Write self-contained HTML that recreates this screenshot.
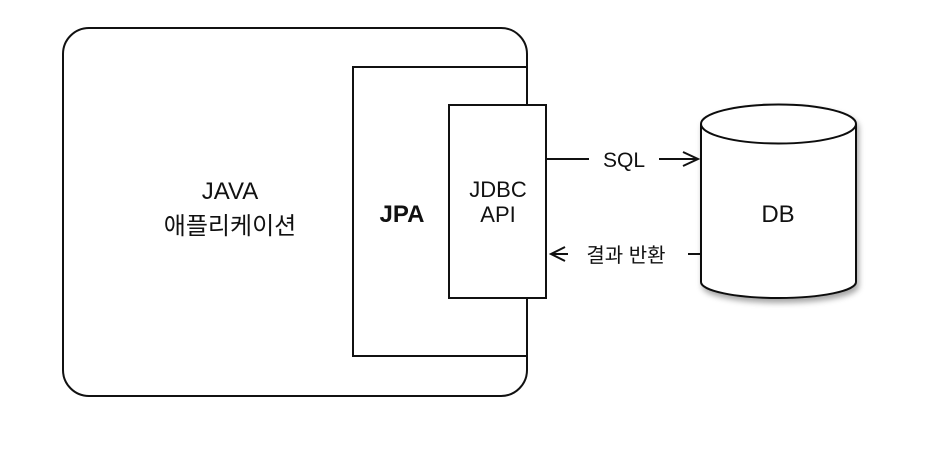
<!DOCTYPE html>
<html><head><meta charset="utf-8"><style>
html,body{margin:0;padding:0;background:#fff;}
text{font-family:"Liberation Sans","Noto Sans CJK KR",sans-serif;fill:#111;}
</style></head><body>
<svg width="926" height="462" viewBox="0 0 926 462" xmlns="http://www.w3.org/2000/svg">
<defs><filter id="sh" x="-10%" y="-10%" width="130%" height="130%"><feDropShadow dx="2" dy="4" stdDeviation="3" flood-opacity="0.35"/></filter></defs>
<rect x="63" y="28" width="464" height="368" rx="26" fill="#fff" stroke="#111" stroke-width="2"/>
<rect x="353" y="67" width="174" height="289" fill="#fff" stroke="#111" stroke-width="2"/>
<rect x="449" y="105" width="97" height="193" fill="#fff" stroke="#111" stroke-width="2"/>
<text x="230" y="199" font-size="24" text-anchor="middle">JAVA</text>
<text x="230" y="234" font-size="24" text-anchor="middle">애플리케이션</text>
<text x="402" y="222" font-size="24" font-weight="bold" text-anchor="middle">JPA</text>
<text x="498" y="197" font-size="22" text-anchor="middle">JDBC</text>
<text x="498" y="222" font-size="22" text-anchor="middle">API</text>
<line x1="547" y1="159" x2="589" y2="159" stroke="#111" stroke-width="2"/>
<text x="624" y="167" font-size="21" text-anchor="middle">SQL</text>
<line x1="659" y1="159" x2="698" y2="159" stroke="#111" stroke-width="2"/>
<polyline points="683,152 698,159 683,166" fill="none" stroke="#111" stroke-width="2"/>
<polyline points="565,247 551,254 565,261" fill="none" stroke="#111" stroke-width="2"/>
<line x1="551" y1="254" x2="568" y2="254" stroke="#111" stroke-width="2"/>
<text x="626" y="262" font-size="20" text-anchor="middle">결과 반환</text>
<line x1="688" y1="254" x2="701" y2="254" stroke="#111" stroke-width="2"/>
<g filter="url(#sh)">
<path d="M701,124 L701,282 A77.5,16 0 0 0 856,282 L856,124" fill="#fff" stroke="#111" stroke-width="2"/>
<ellipse cx="778.5" cy="124" rx="77.5" ry="19.5" fill="#fff" stroke="#111" stroke-width="2"/>
</g>
<text x="778" y="222" font-size="24" text-anchor="middle">DB</text>
</svg>
</body></html>
